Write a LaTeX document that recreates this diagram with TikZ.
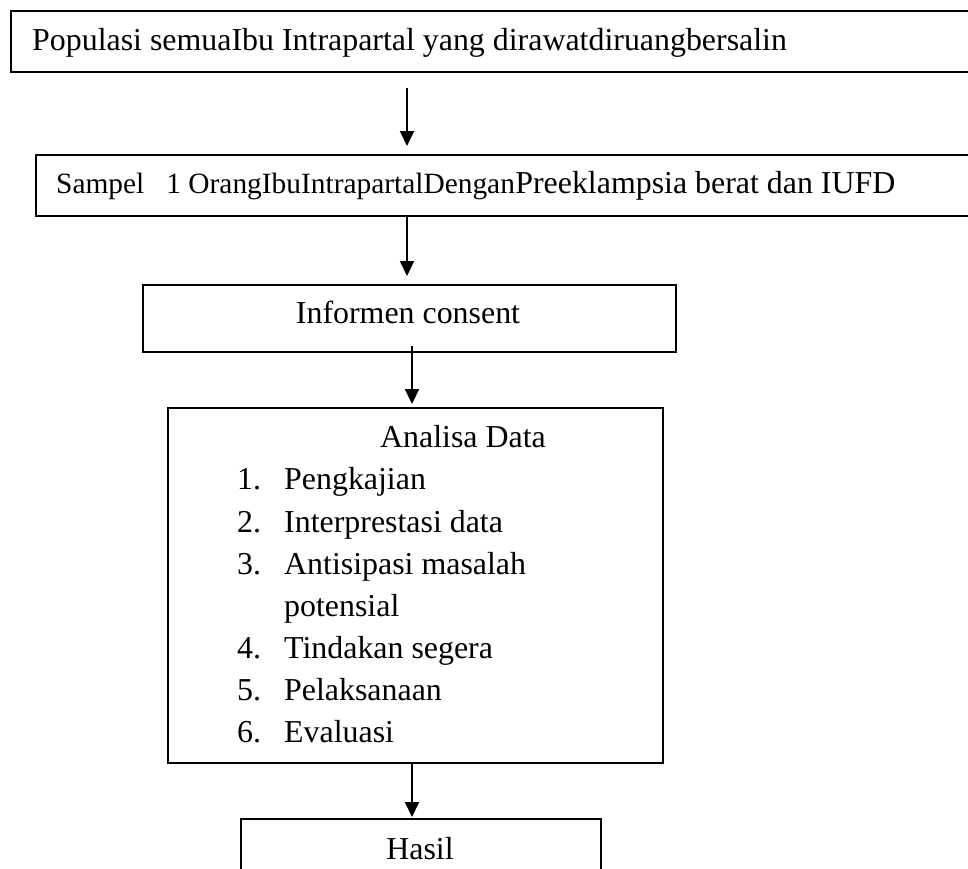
\documentclass[tikz,border=0pt]{standalone}
\usepackage{fontspec}
\setmainfont{Liberation Serif}
\usetikzlibrary{arrows.meta}
\tikzset{
  boxstyle/.style={draw, line width=2pt, rectangle, inner sep=0pt},
  big/.style={font=\fontsize{31.9pt}{38pt}\selectfont, inner sep=0pt},
  small/.style={font=\fontsize{29.4pt}{35pt}\selectfont, inner sep=0pt},
  arr/.style={line width=2pt, -{Triangle[width=14pt,length=15pt]}},
}
\begin{document}
\begin{tikzpicture}[x=1pt,y=-1pt]
\useasboundingbox (0,0) rectangle (968,868);
\clip (0,0) rectangle (968,868);
\fill[white] (0,0) rectangle (968,868);
% boxes
\node[boxstyle, anchor=north west, minimum width=1000pt, minimum height=61pt] (b1) at (10,10) {};
\node[boxstyle, anchor=north west, minimum width=1000pt, minimum height=61pt] (b2) at (35,154) {};
\node[boxstyle, anchor=north west, minimum width=533pt, minimum height=67pt] (b3) at (142,284) {};
\node[boxstyle, anchor=north west, minimum width=495pt, minimum height=355pt] (b4) at (167,407) {};
\node[boxstyle, anchor=north west, minimum width=360pt, minimum height=90pt] (b5) at (240,818) {};
% texts
\node[big, anchor=base west] (t1) at (32,50) {Populasi semuaIbu Intrapartal yang dirawatdiruangbersalin};
\node[small, anchor=base west] (t2a) at (56,193) {Sampel\hspace{22pt}1 OrangIbuIntrapartalDengan};
\node[big, anchor=base west] (t2b) at (t2a.base east) {Preeklampsia berat dan IUFD};
\node[big, anchor=base] (t3) at (408,323) {Informen consent};
\node[big, anchor=base west] (t4) at (380,447) {Analisa Data};
\node[big, anchor=base west] (n1) at (237,489) {1.};
\node[big, anchor=base west] (i1) at (284,489) {Pengkajian};
\node[big, anchor=base west] (n2) at (237,532) {2.};
\node[big, anchor=base west] (i2) at (284,532) {Interprestasi data};
\node[big, anchor=base west] (n3) at (237,574) {3.};
\node[big, anchor=base west] (i3) at (284,574) {Antisipasi masalah};
\node[big, anchor=base west] (i3b) at (284,616) {potensial};
\node[big, anchor=base west] (n4) at (237,658) {4.};
\node[big, anchor=base west] (i4) at (284,658) {Tindakan segera};
\node[big, anchor=base west] (n5) at (237,700) {5.};
\node[big, anchor=base west] (i5) at (284,700) {Pelaksanaan};
\node[big, anchor=base west] (n6) at (237,742) {6.};
\node[big, anchor=base west] (i6) at (284,742) {Evaluasi};
\node[big, anchor=base] (t5) at (420,859) {Hasil};
% arrow columns
\coordinate (xa) at (407,0);
\coordinate (xb) at (412,0);
\draw[arr, shorten <=15pt, shorten >=8pt] (b1.south -| xa) -- (b2.north -| xa);
\draw[arr, shorten >=8pt] (b2.south -| xa) -- (b3.north -| xa);
\draw[arr, shorten <=-7pt, shorten >=3pt] (b3.south -| xb) -- (b4.north -| xb);
\draw[arr, shorten >=1pt] (b4.south -| xb) -- (b5.north -| xb);
\end{tikzpicture}
\end{document}
